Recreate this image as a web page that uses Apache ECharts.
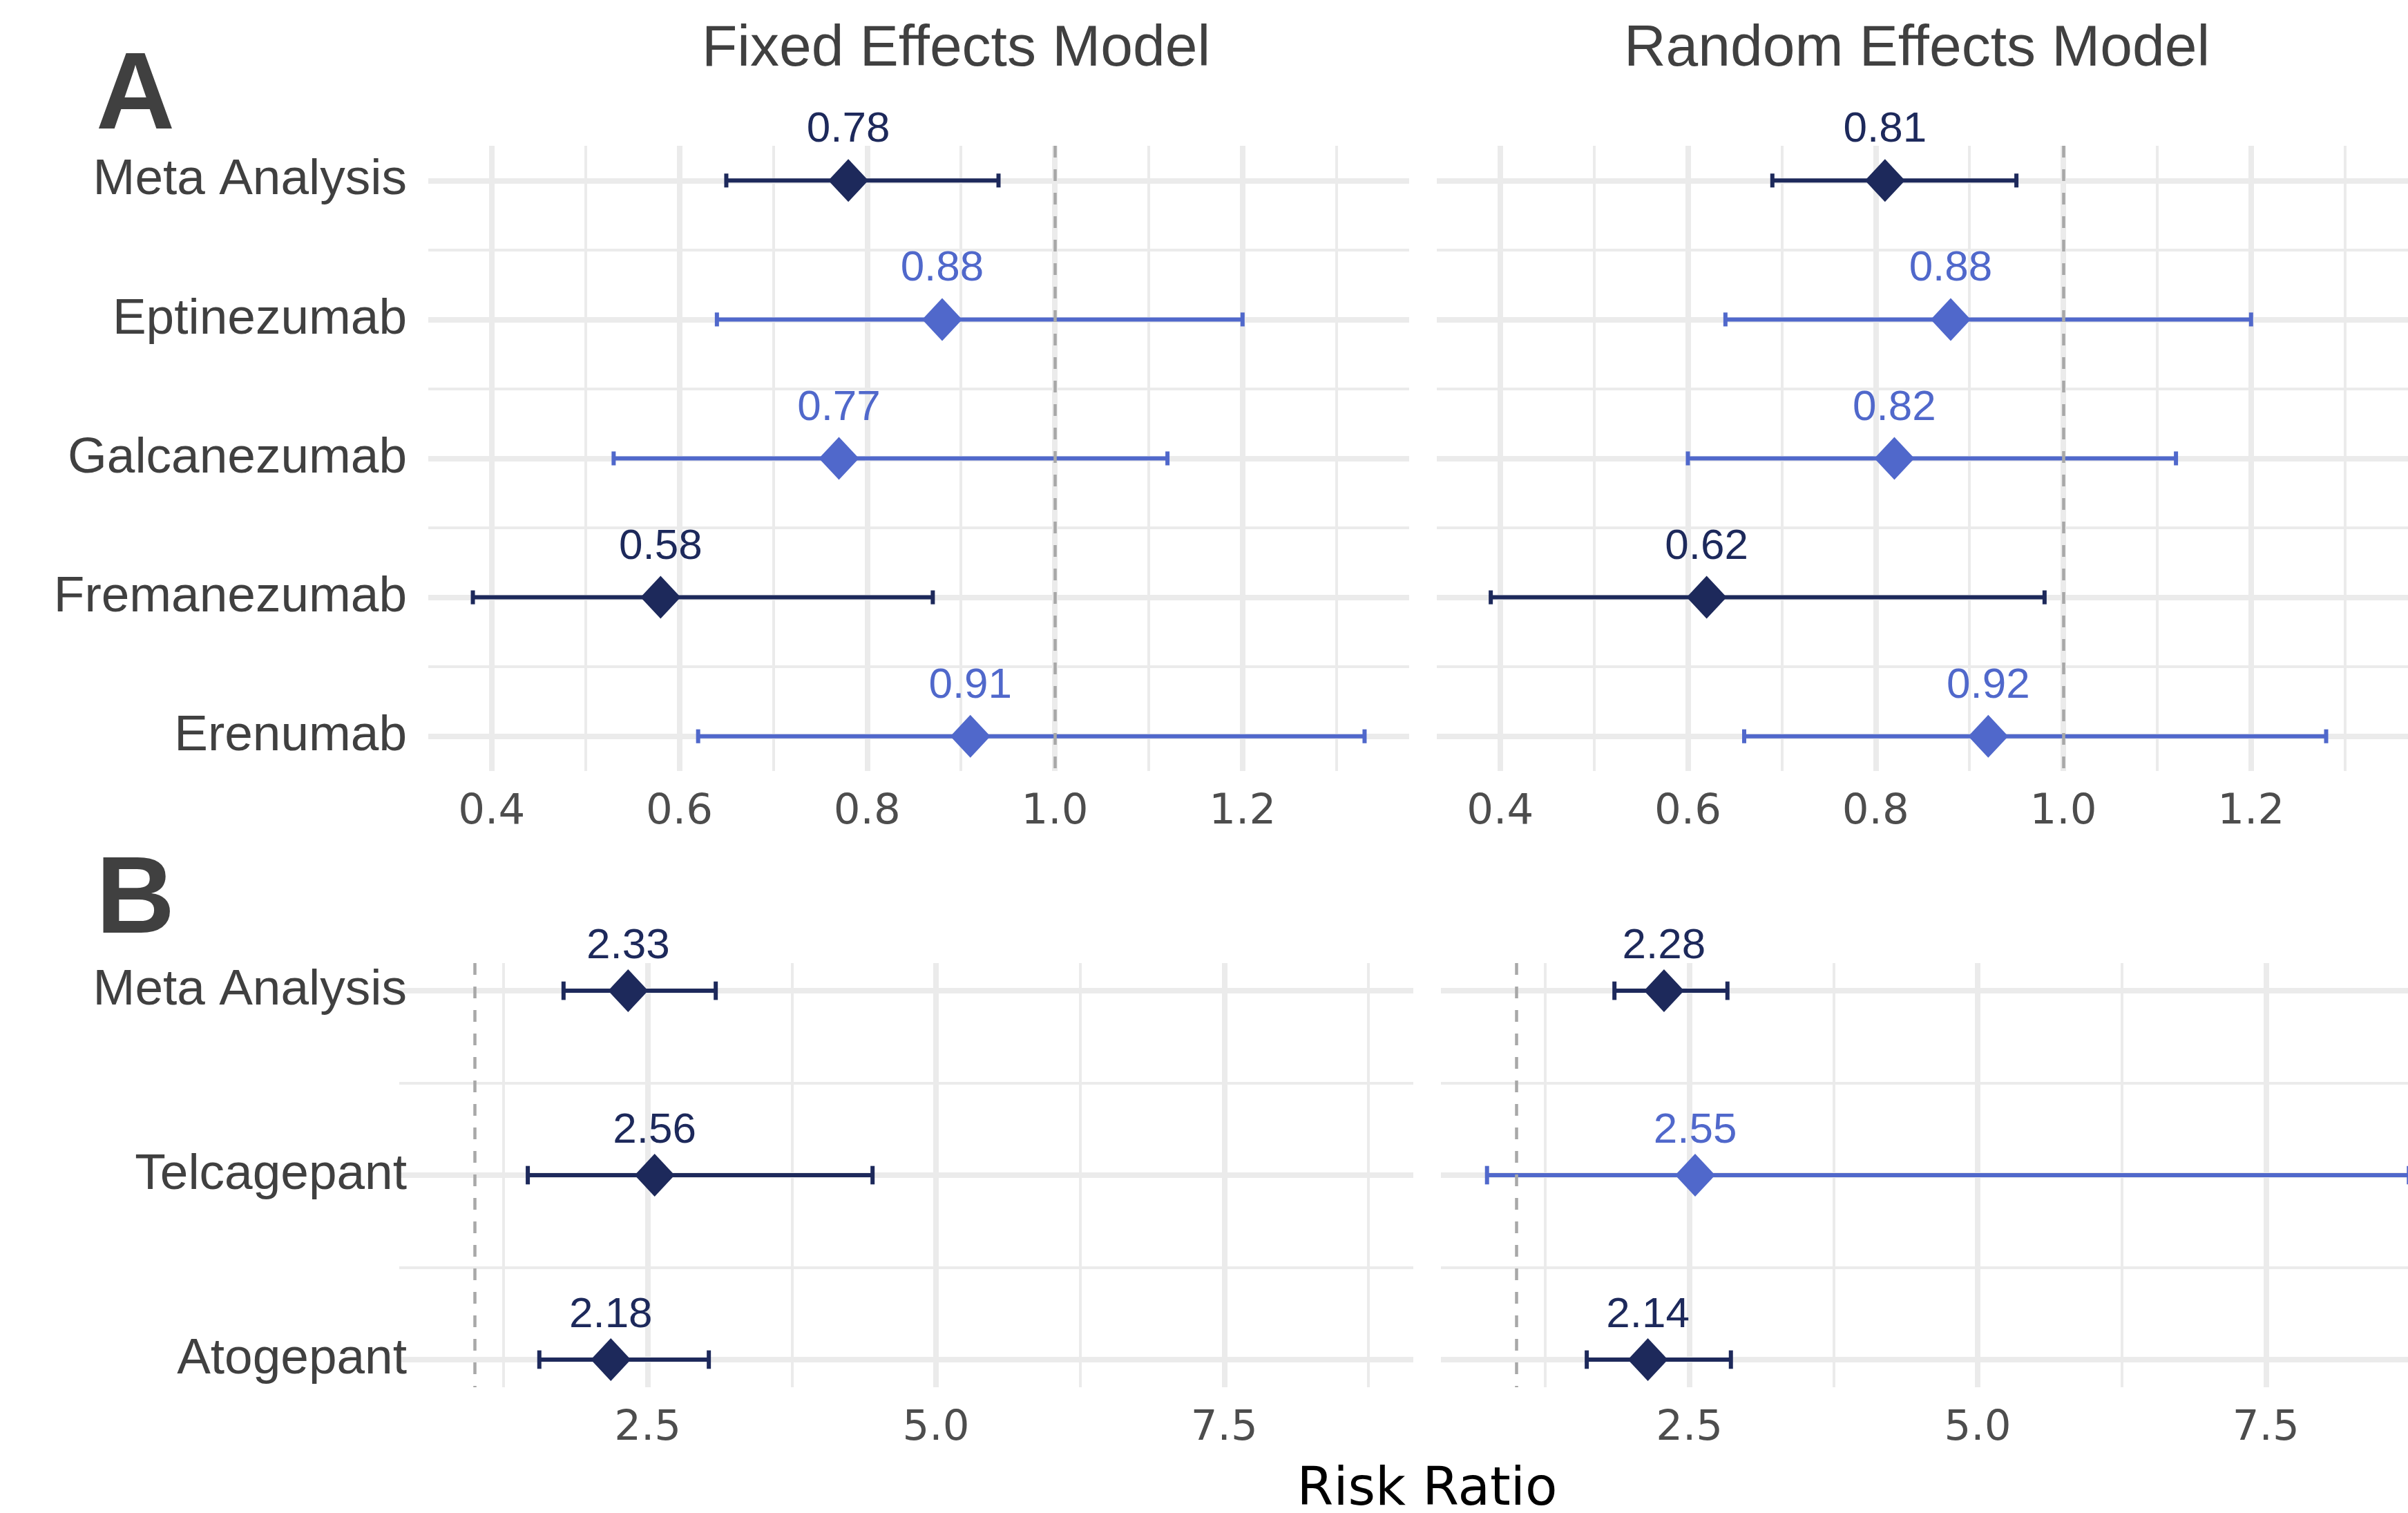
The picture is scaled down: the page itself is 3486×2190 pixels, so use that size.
<!DOCTYPE html>
<html>
<head>
<meta charset="utf-8">
<title>Risk ratio forest plot</title>
<script src="https://cdn.jsdelivr.net/npm/echarts@6/dist/echarts.min.js"></script>
<style>
  html, body { margin: 0; padding: 0; background: #fff; }
  #main { width: 3486px; height: 2190px; }
</style>
</head>
<body>
<div id="main"></div>
<script>
// panel A
var namesA = ['Meta Analysis', 'Eptinezumab', 'Galcanezumab', 'Fremanezumab', 'Erenumab'];
var fixedRrA = [0.78, 0.88, 0.77, 0.58, 0.91];
var fixedLoA = [0.65, 0.64, 0.53, 0.38, 0.62];
var fixedHiA = [0.94, 1.20, 1.12, 0.87, 1.33];
var randomRrA = [0.81, 0.88, 0.82, 0.62, 0.92];
var randomLoA = [0.69, 0.64, 0.60, 0.39, 0.66];
var randomHiA = [0.95, 1.20, 1.12, 0.98, 1.28];

// panel B
var namesB = ['Meta Analysis', 'Telcagepant', 'Atogepant'];
var fixedRrB = [2.33, 2.56, 2.18];
var fixedLoB = [1.77, 1.46, 1.56];
var fixedHiB = [3.09, 4.45, 3.03];
var randomRrB = [2.28, 2.55, 2.14];
var randomLoB = [1.85, 0.745, 1.61];
var randomHiB = [2.83, 8.74, 2.86];

var stepA = 0.2;
var stepB = 2.5;
var refValue = 1;

var DARK = '#1D295B';
var LIGHT = '#5068CB';
var GRID = '#EBEBEB';

// ggplot style 5% expansion
function expandRange(lists) {
  var all = [].concat.apply([], lists);
  var lo = Math.min.apply(null, all), hi = Math.max.apply(null, all);
  var pad = (hi - lo) * 0.05;
  return [lo - pad, hi + pad];
}
var rangeA = expandRange([fixedLoA, fixedHiA, randomLoA, randomHiA]);
var rangeB = expandRange([fixedLoB, fixedHiB, randomLoB, randomHiB]);

var panels = [
  { grid: { left: 620, top: 211, width: 1420, height: 905 }, rr: fixedRrA, lo: fixedLoA, hi: fixedHiA,
    names: namesA, range: rangeA, step: stepA, yr: [0.75, 5.25], showNames: true, nameMargin: 31, labelGap: 11 },
  { grid: { left: 2080, top: 211, width: 1420, height: 905 }, rr: randomRrA, lo: randomLoA, hi: randomHiA,
    names: namesA, range: rangeA, step: stepA, yr: [0.75, 5.25], showNames: false, nameMargin: 31, labelGap: 11 },
  { grid: { left: 578, top: 1394, width: 1468, height: 614 }, rr: fixedRrB, lo: fixedLoB, hi: fixedHiB,
    names: namesB, range: rangeB, step: stepB, yr: [0.85, 3.15], showNames: true, nameMargin: -11, labelGap: 2 },
  { grid: { left: 2086, top: 1394, width: 1468, height: 614 }, rr: randomRrB, lo: randomLoB, hi: randomHiB,
    names: namesB, range: rangeB, step: stepB, yr: [0.85, 3.15], showNames: false, nameMargin: -11, labelGap: 2 }
];

function isSig(lo, hi) {
  return hi < refValue || lo > refValue;
}

var grids = [], xAxes = [], yAxes = [], series = [];

panels.forEach(function (p, i) {
  var g = Object.assign({ outerBoundsMode: 'none', containLabel: false }, p.grid);
  grids.push(g);

  xAxes.push({
    type: 'value',
    gridIndex: i,
    min: p.range[0],
    max: p.range[1],
    minInterval: p.step,
    maxInterval: p.step,
    axisLine: { show: false },
    axisTick: { show: false },
    axisLabel: {
      fontFamily: 'DejaVu Sans',
      fontSize: 61,
      color: '#4D4D4D',
      margin: 30,
      formatter: function (v) {
        var k = v / p.step;
        return Math.abs(k - Math.round(k)) < 1e-6 ? v.toFixed(1) : '';
      }
    },
    splitLine: { show: true, showMinLine: false, showMaxLine: false, lineStyle: { color: GRID, width: 8 } },
    minorTick: { show: false, splitNumber: 2 },
    minorSplitLine: { show: true, lineStyle: { color: GRID, width: 4 } }
  });

  yAxes.push({
    type: 'value',
    gridIndex: i,
    inverse: true,
    min: p.yr[0],
    max: p.yr[1],
    minInterval: 1,
    maxInterval: 1,
    axisLine: { show: false },
    axisTick: { show: false },
    axisLabel: {
      show: p.showNames,
      fontFamily: 'Liberation Sans',
      fontSize: 73,
      color: '#404040',
      margin: p.nameMargin,
      formatter: function (v) {
        return Number.isInteger(v) && p.names[v - 1] ? p.names[v - 1] : '';
      }
    },
    splitLine: { show: true, showMinLine: false, showMaxLine: false, lineStyle: { color: GRID, width: 8 } },
    minorTick: { show: false, splitNumber: 2 },
    minorSplitLine: { show: true, lineStyle: { color: GRID, width: 4 } }
  });

  // dashed reference line at RR = 1
  series.push({
    type: 'line',
    xAxisIndex: i,
    yAxisIndex: i,
    data: [],
    z: 1,
    markLine: {
      silent: true,
      symbol: ['none', 'none'],
      label: { show: false },
      lineStyle: { color: '#A8A8A8', width: 4.5, type: [17, 17] },
      data: [{ xAxis: refValue }]
    }
  });

  // error bars
  series.push({
    type: 'custom',
    xAxisIndex: i,
    yAxisIndex: i,
    z: 2,
    clip: false,
    encode: { x: [0, 1], y: 2 },
    data: p.lo.map(function (lo, k) {
      return [lo, p.hi[k], k + 1, isSig(lo, p.hi[k]) ? 1 : 0];
    }),
    renderItem: function (params, api) {
      var y = api.value(2);
      var a = api.coord([api.value(0), y]);
      var b = api.coord([api.value(1), y]);
      var cap = api.size([0, 0.1])[1] / 2;
      var style = { stroke: api.value(3) ? DARK : LIGHT, lineWidth: 6, fill: null };
      return {
        type: 'group',
        children: [
          { type: 'line', shape: { x1: a[0], y1: a[1], x2: b[0], y2: b[1] }, style: style },
          { type: 'line', shape: { x1: a[0], y1: a[1] - cap, x2: a[0], y2: a[1] + cap }, style: style },
          { type: 'line', shape: { x1: b[0], y1: b[1] - cap, x2: b[0], y2: b[1] + cap }, style: style }
        ]
      };
    }
  });

  // point estimates
  series.push({
    type: 'scatter',
    xAxisIndex: i,
    yAxisIndex: i,
    z: 3,
    symbol: 'diamond',
    symbolSize: [58, 62],
    itemStyle: { opacity: 1 },
    data: p.rr.map(function (v, k) {
      var c = isSig(p.lo[k], p.hi[k]) ? DARK : LIGHT;
      return { value: [v, k + 1], itemStyle: { color: c, opacity: 1 }, label: { color: c } };
    }),
    label: {
      show: true,
      position: 'top',
      distance: p.labelGap,
      fontFamily: 'Liberation Sans',
      fontSize: 62,
      opacity: 1,
      formatter: function (d) { return d.value[0].toFixed(2); }
    }
  });
});

var chart = echarts.init(document.getElementById('main'));

chart.setOption({
  backgroundColor: '#ffffff',
  animation: false,
  grid: grids,
  xAxis: xAxes,
  yAxis: yAxes,
  series: series,
  graphic: [
    { type: 'text', x: 1384, y: 72, style: { text: 'Fixed Effects Model', fontFamily: 'Liberation Sans', fontSize: 84, fill: '#404040', align: 'center', verticalAlign: 'middle' } },
    { type: 'text', x: 2775, y: 72, style: { text: 'Random Effects Model', fontFamily: 'Liberation Sans', fontSize: 84, fill: '#404040', align: 'center', verticalAlign: 'middle' } },
    { type: 'text', x: 139, y: 142, style: { text: 'A', fontFamily: 'Liberation Sans', fontWeight: 'bold', fontSize: 158, fill: '#404040', align: 'left', verticalAlign: 'middle' } },
    { type: 'text', x: 139, y: 1306, style: { text: 'B', fontFamily: 'Liberation Sans', fontWeight: 'bold', fontSize: 158, fill: '#404040', align: 'left', verticalAlign: 'middle' } },
    { type: 'text', x: 2066, y: 2158, style: { text: 'Risk Ratio', fontFamily: 'DejaVu Sans', fontSize: 76, fill: '#000000', align: 'center', verticalAlign: 'middle' } }
  ]
});
</script>
</body>
</html>
